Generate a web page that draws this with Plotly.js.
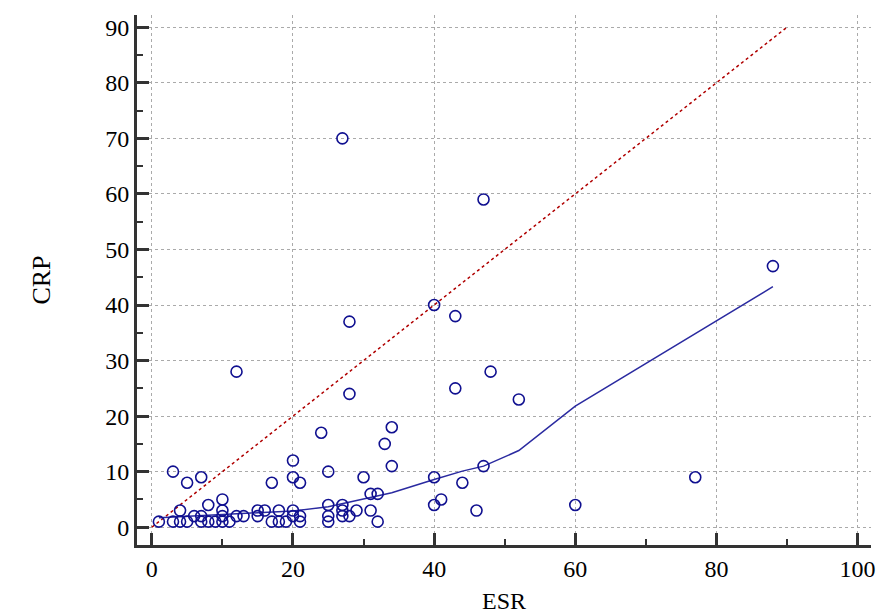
<!DOCTYPE html>
<html>
<head>
<meta charset="utf-8">
<script src="https://cdn.plot.ly/plotly-3.0.1.min.js"></script>
<style>html,body{margin:0;padding:0;background:#fff;}#chart{width:877px;height:614px;}</style>
</head>
<body>
<div id="chart"></div>
<script>
const esr = [1,3,3,4,4,5,5,6,7,7,7,8,8,9,10,10,10,10,11,12,13,15,15,16,17,17,18,18,19,20,20,20,20,21,21,21,
  24,25,25,25,25,27,27,27,28,29,30,31,31,32,32,33,34,34,
  28,43,52,40,44,47,41,40,46,27,47,40,43,28,48,12,60,77,88];
const crp = [1,1,10,3,1,8,1,2,9,2,1,4,1,1,5,3,2,1,1,2,2,3,2,3,8,1,3,1,1,12,9,3,2,8,2,1,
  17,10,4,2,1,4,3,2,2,3,9,6,3,6,1,15,18,11,
  24,25,23,9,8,11,5,4,3,70,59,40,38,37,28,28,4,9,47];
const fitX = [1,5,10,15,20,25,29,34,40,44,47,52,60,88];
const fitY = [1.7,2.0,2.3,2.6,2.9,3.7,4.8,6.2,8.6,10.1,11.0,13.8,21.8,43.3];
const idX = [0,90];
const idY = [0,90];

const fontFam = '"Liberation Serif","Times New Roman",serif';
const traces = [
  {x: idX, y: idY, mode:'lines', line:{color:'#b00000', width:1.5, dash:'dot'}, hoverinfo:'skip'},
  {x: fitX, y: fitY, mode:'lines', line:{color:'#2a2aa0', width:1.5}},
  {x: esr, y: crp, mode:'markers', marker:{symbol:'circle-open', size:11, color:'#101090', line:{width:1.6, color:'#101090'}}}
];
const axCommon = {
  showline:true, linecolor:'#333', linewidth:3, mirror:false,
  ticks:'inside', tickcolor:'#333', tickwidth:3, ticklen:12,
  showgrid:true, gridcolor:'#aaa', griddash:'dot', gridwidth:1,
  zeroline:false,
  tickfont:{family:fontFam, size:24, color:'#000'}
};
const layout = {
  width:877, height:614,
  margin:{l:137, r:6, t:15, b:69},
  paper_bgcolor:'#fff', plot_bgcolor:'#fff',
  showlegend:false,
  xaxis: Object.assign({}, axCommon, {
    range:[-2.1, 101.9], tickvals:[0,20,40,60,80,100],
    minor:{dtick:10, tick0:0, ticks:'inside', ticklen:6, tickwidth:2, tickcolor:'#333', showgrid:false},
    title:{text:'ESR', font:{family:fontFam, size:24, color:'#000'}, standoff:16}
  }),
  yaxis: Object.assign({}, axCommon, {
    range:[-3.2, 92.2], tickvals:[0,10,20,30,40,50,60,70,80,90],
    minor:{dtick:5, tick0:0, ticks:'inside', ticklen:6, tickwidth:2, tickcolor:'#333', showgrid:false},
    title:{text:'CRP', font:{family:fontFam, size:26, color:'#000'}, standoff:48}
  })
};
Plotly.newPlot('chart', traces, layout, {displayModeBar:false, staticPlot:true});
</script>
</body>
</html>
